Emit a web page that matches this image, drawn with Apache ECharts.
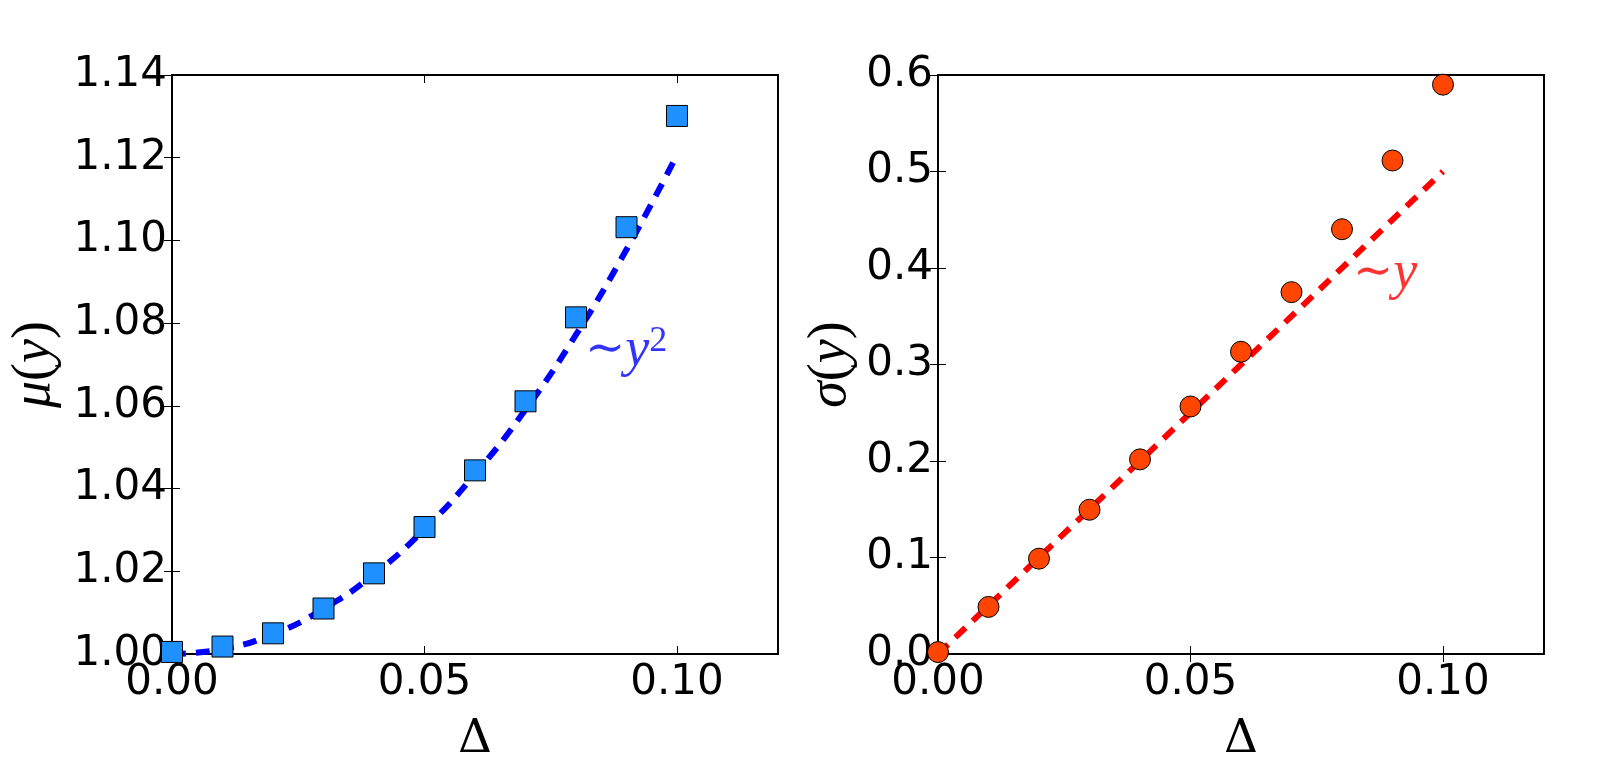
<!DOCTYPE html>
<html>
<head>
<meta charset="utf-8">
<script src="https://cdn.jsdelivr.net/npm/echarts@6/dist/echarts.min.js"></script>
<style>
  html, body { margin: 0; padding: 0; background: #fff; }
</style>
</head>
<body>
<div id="main" style="width: 1604px;height:769px;"></div>

<script type="text/javascript">
  // 数据：Δ 取值与两组测量值、拟合曲线
  var delta = [0, 0.01, 0.02, 0.03, 0.04, 0.05, 0.06, 0.07, 0.08, 0.09, 0.10];
  var muValues = [1.0005, 1.0018, 1.0050, 1.0110, 1.0195, 1.0307, 1.0444, 1.0611, 1.0814, 1.1032, 1.1301];
  var muFit = [1.0000, 1.0012, 1.0048, 1.0109, 1.0193, 1.0302, 1.0435, 1.0591, 1.0772, 1.0978, 1.1207];
  var sigmaValues = [0.002, 0.0488, 0.0988, 0.1495, 0.2017, 0.2565, 0.3132, 0.375, 0.4402, 0.5114, 0.590];
  var sigmaFitX = [0, 0.10];
  var sigmaFit = [0, 0.50];

  // 坐标轴范围与刻度
  var xRange = [0, 0.12, 0.05];
  var xTicks = [0, 0.05, 0.10];
  var muRange = [1.00, 1.14, 0.02];
  var sigmaRange = [0, 0.6, 0.1];

  // 注释位置 (数据坐标)
  var muNote = [0.0818, 1.0733];
  var sigmaNote = [0.0822, 0.3943];

  function pairs(xs, ys) {
    return xs.map(function (x, i) { return [x, ys[i]]; });
  }

  var tickFont = { fontFamily: 'DejaVu Sans', fontSize: 42, color: '#000' };
  var tick = { show: true, inside: true, length: 8, lineStyle: { color: '#000', width: 1 } };

  function xAx(grid, pos, labels) {
    return {
      type: 'value', gridIndex: grid, position: pos,
      min: xRange[0], max: xRange[1], interval: xRange[2],
      axisLine: { show: false }, splitLine: { show: false },
      axisTick: Object.assign({ customValues: xTicks }, tick),
      axisLabel: Object.assign({ show: labels, margin: 8, customValues: xTicks,
        formatter: function (v) { return v.toFixed(2); } }, tickFont),
      name: labels ? 'Δ' : '', nameLocation: 'middle', nameGap: 62,
      nameTextStyle: { fontFamily: 'DejaVu Serif', fontSize: 47, color: '#000' }
    };
  }
  function yAx(grid, pos, r, digits, labels, name, gap) {
    return {
      type: 'value', gridIndex: grid, position: pos,
      min: r[0], max: r[1], interval: r[2],
      axisLine: { show: false }, splitLine: { show: false },
      axisTick: tick,
      axisLabel: Object.assign({ show: labels, margin: 5,
        formatter: function (v) { return v.toFixed(digits); } }, tickFont),
      name: labels ? name : '', nameLocation: 'middle', nameGap: gap, nameRotate: 90,
      nameTextStyle: {
        color: '#000',
        rich: {
          i: { fontFamily: 'Liberation Serif', fontStyle: 'italic', fontSize: 54, color: '#000' },
          r: { fontFamily: 'Liberation Serif', fontSize: 54, color: '#000' }
        }
      }
    };
  }

  var option = {
    animation: false,
    grid: [
      { left: 172, top: 75, width: 606, height: 579, show: true, borderColor: '#000', borderWidth: 2 },
      { left: 938, top: 75, width: 606, height: 579, show: true, borderColor: '#000', borderWidth: 2 }
    ],
    xAxis: [xAx(0, 'bottom', true), xAx(0, 'top', false), xAx(1, 'bottom', true), xAx(1, 'top', false)],
    yAxis: [
      yAx(0, 'left', muRange, 2, true, '{i|μ}{r|(}{i|y}{r|)}', 110),
      yAx(0, 'right', muRange, 2, false, '', 0),
      yAx(1, 'left', sigmaRange, 1, true, '{i|σ}{r|(}{i|y}{r|)}', 80),
      yAx(1, 'right', sigmaRange, 1, false, '', 0)
    ],
    series: [
      {
        type: 'line', xAxisIndex: 0, yAxisIndex: 0, smooth: true, showSymbol: false,
        data: pairs(delta, muFit),
        lineStyle: { color: '#0000ff', width: 6, type: [14, 10] }, z: 2
      },
      {
        type: 'scatter', xAxisIndex: 0, yAxisIndex: 0, symbol: 'rect', symbolSize: 21,
        data: pairs(delta, muValues),
        itemStyle: { color: '#1e90ff', borderColor: '#000', borderWidth: 1, opacity: 1 }, z: 3
      },
      {
        type: 'scatter', xAxisIndex: 0, yAxisIndex: 0, symbolSize: 0, silent: true,
        data: [muNote],
        label: {
          show: true, position: 'inside', align: 'left', verticalAlign: 'middle',
          formatter: '{t|∼}{i|y}{s|2}',
          rich: {
            t: { fontFamily: 'DejaVu Serif', fontSize: 48, color: '#0000ff' },
            i: { fontFamily: 'Liberation Serif', fontStyle: 'italic', fontSize: 54, color: '#0000ff' },
            s: { fontFamily: 'Liberation Serif', fontSize: 36, color: '#0000ff', verticalAlign: 'top' }
          }
        }
      },
      {
        type: 'line', xAxisIndex: 2, yAxisIndex: 2, showSymbol: false,
        data: pairs(sigmaFitX, sigmaFit),
        lineStyle: { color: '#ff0000', width: 6, type: [14, 10] }, z: 2
      },
      {
        type: 'scatter', xAxisIndex: 2, yAxisIndex: 2, symbol: 'circle', symbolSize: 21,
        data: pairs(delta, sigmaValues),
        itemStyle: { color: '#ff4500', borderColor: '#000', borderWidth: 1, opacity: 1 }, z: 3
      },
      {
        type: 'scatter', xAxisIndex: 2, yAxisIndex: 2, symbolSize: 0, silent: true,
        data: [sigmaNote],
        label: {
          show: true, position: 'inside', align: 'left', verticalAlign: 'middle',
          formatter: '{t|∼}{i|y}',
          rich: {
            t: { fontFamily: 'DejaVu Serif', fontSize: 48, color: '#ff0000' },
            i: { fontFamily: 'Liberation Serif', fontStyle: 'italic', fontSize: 54, color: '#ff0000' }
          }
        }
      }
    ]
  };

  var myChart = echarts.init(document.getElementById('main'));
  myChart.setOption(option);
</script>
</body>
</html>
